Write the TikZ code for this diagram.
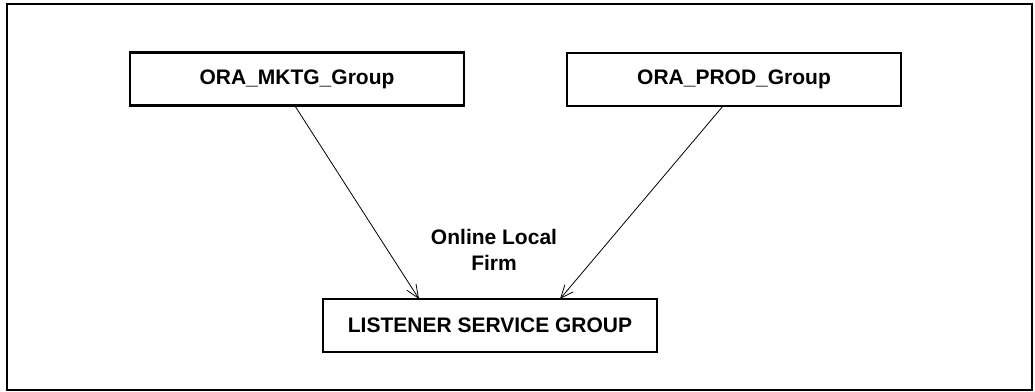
\documentclass[tikz,border=0pt]{standalone}
\usepackage{fontspec}
\setmainfont{Liberation Sans}
\usetikzlibrary{arrows.meta}
\begin{document}
\begin{tikzpicture}[x=1pt,y=-1pt,
  groupbox/.style={draw,line width=2.6pt,minimum width=334pt,minimum height=53pt,inner sep=0pt,font=\fontsize{21}{25}\selectfont\bfseries},
  link/.style={line width=0.8pt,-{Straight Barb[length=13pt,width=11pt,line width=0.8pt]}},
  lbl/.style={align=center,font=\fontsize{21}{26}\selectfont\bfseries}]
\useasboundingbox (0,0) rectangle (1035,391);
\draw[line width=2.6pt] (7,4) rectangle (1032,390);
\node[groupbox] (mktg) at (297,79) {ORA\_MKTG\_Group};
\node[groupbox] (prod) at (734,79.5) {ORA\_PROD\_Group};
\node[groupbox] (lsg) at (490,325.5) {LISTENER SERVICE GROUP};
\coordinate (s1) at (295,106);
\coordinate (e1) at (419,299);
\coordinate (s2) at (723,106);
\coordinate (e2) at (560,299);
\draw[link] (s1) -- (e1);
\draw[link] (s2) -- (e2);
\node[lbl] (firm) at (494,250) {Online Local\\Firm};
\end{tikzpicture}
\end{document}
